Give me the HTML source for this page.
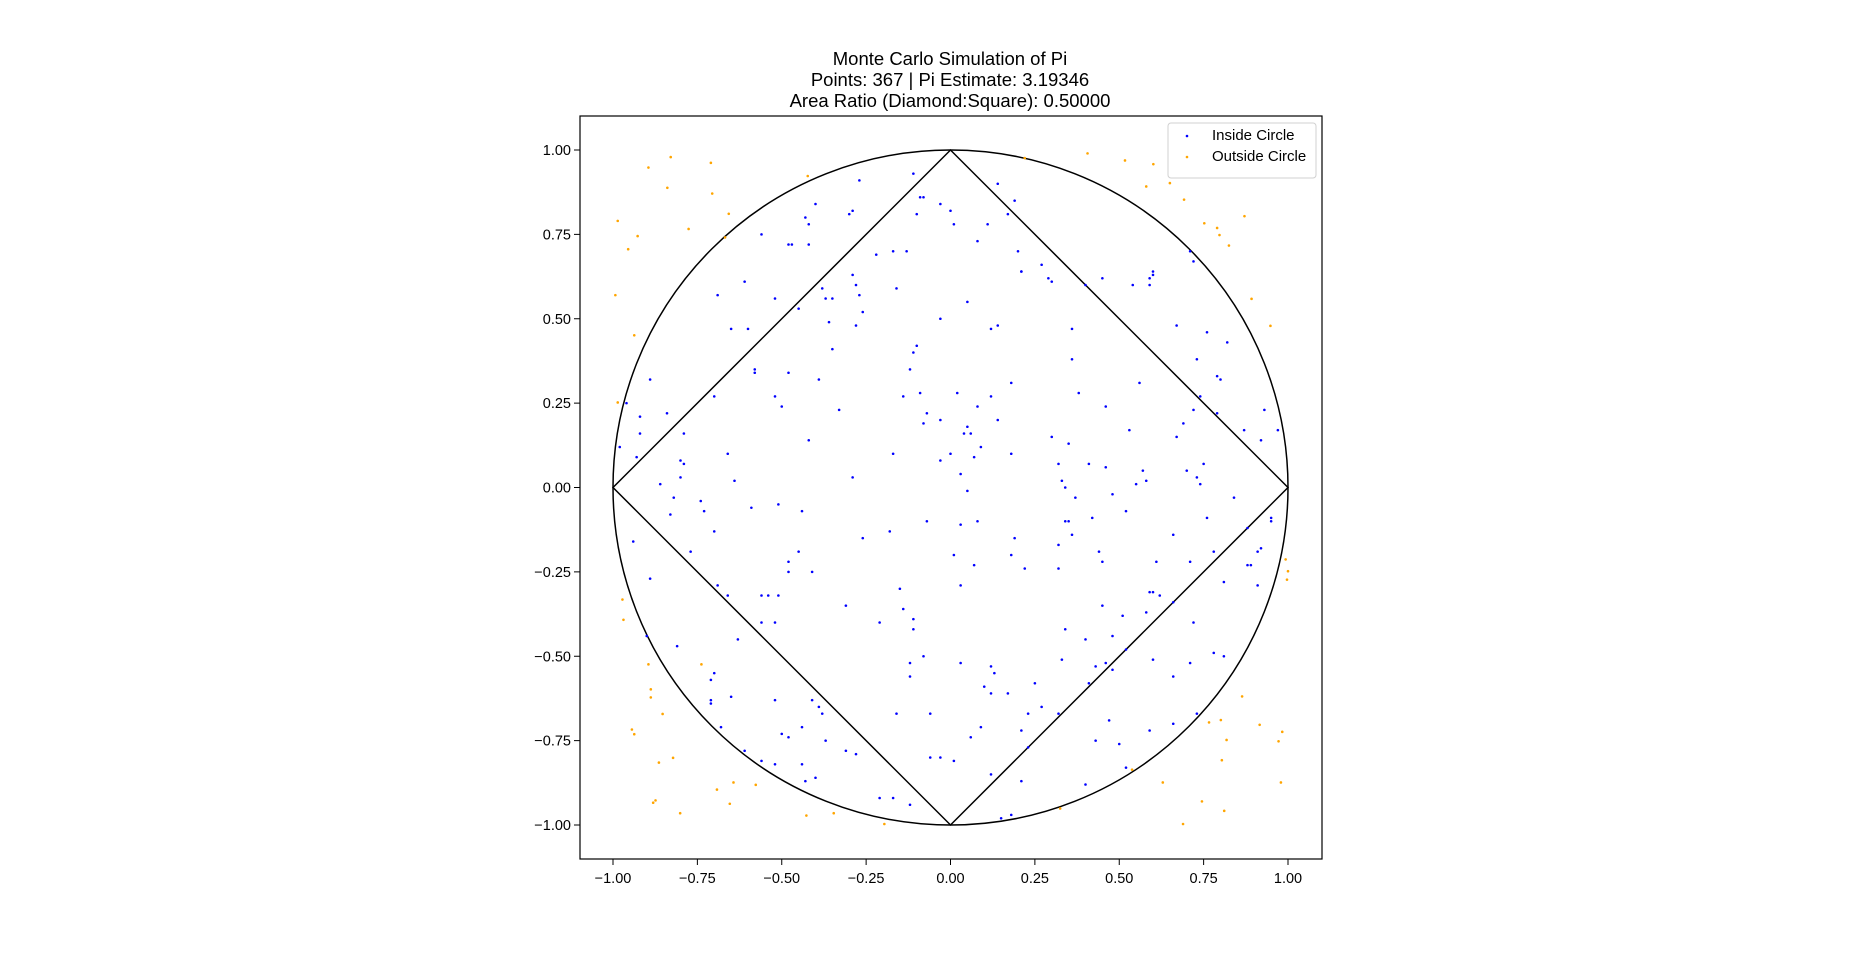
<!DOCTYPE html>
<html><head><meta charset="utf-8"><style>
html,body{margin:0;padding:0;background:#fff;}
svg{display:block;font-family:"Liberation Sans","DejaVu Sans",sans-serif;}
</style></head><body>
<svg id="chart" width="1854" height="965" xmlns="http://www.w3.org/2000/svg">
<rect width="1854" height="965" fill="#fff"/>
<g font-size="18.5" text-anchor="middle" fill="#000">
<text x="950" y="65">Monte Carlo Simulation of Pi</text>
<text x="950" y="86">Points: 367 | Pi Estimate: 3.19346</text>
<text x="950" y="107">Area Ratio (Diamond:Square): 0.50000</text>
</g>
<g id="plot"></g>
</svg>
<script>
const xTicks=[-1,-0.75,-0.5,-0.25,0,0.25,0.5,0.75,1];
const yTicks=[-1,-0.75,-0.5,-0.25,0,0.25,0.5,0.75,1];
const outsideX=[-0.986,-0.895,-0.829,-0.839,-0.927,-0.955,-0.993,-0.776,-0.71,-0.706,-0.657,-0.668,-0.937,-0.986,-0.972,-0.969,-0.895,-0.888,-0.853,-0.944,-0.937,-0.864,-0.822,-0.874,-0.881,-0.801,-0.692,-0.643,-0.654,-0.577,-0.423,-0.427,-0.346,-0.196,0.22,0.406,0.517,0.58,0.601,0.65,0.692,0.752,0.79,0.797,0.825,0.871,0.892,0.948,0.993,1.0,0.864,0.801,0.766,0.818,0.804,0.745,0.811,0.916,0.983,0.979,0.997,0.689,0.538,0.629,0.325,0.972,-0.738,-0.888];
const outsideY=[0.79,0.948,0.979,0.888,0.745,0.706,0.57,0.766,0.962,0.871,0.811,0.741,0.451,0.252,-0.332,-0.392,-0.524,-0.598,-0.671,-0.717,-0.731,-0.815,-0.801,-0.927,-0.934,-0.965,-0.895,-0.874,-0.937,-0.881,0.923,-0.972,-0.965,-0.997,0.976,0.99,0.969,0.892,0.958,0.902,0.853,0.783,0.769,0.748,0.717,0.804,0.559,0.479,-0.213,-0.248,-0.619,-0.689,-0.696,-0.748,-0.808,-0.93,-0.958,-0.703,-0.724,-0.874,-0.273,-0.997,-0.836,-0.874,-0.951,-0.752,-0.524,-0.622];
const insideX=[-0.11,-0.27,-0.09,-0.08,-0.03,0,-0.1,0.01,0.11,0.14,0.19,0.17,-0.4,-0.43,-0.42,-0.29,-0.3,-0.56,-0.48,-0.47,-0.42,0.08,-0.22,-0.17,-0.13,0.2,0.05,-0.03,0.21,0.21,0.27,0.29,0.3,-0.29,-0.28,-0.27,-0.26,-0.28,-0.38,-0.37,-0.35,-0.36,-0.35,-0.45,-0.52,-0.61,-0.6,-0.65,-0.69,-0.58,-0.58,-0.48,-0.39,-0.16,-0.1,-0.11,-0.12,-0.14,-0.09,-0.08,-0.07,-0.03,0,-0.03,0.03,0.05,0.02,0.12,0.14,0.08,0.05,0.06,0.04,0.07,0.09,0.18,0.14,0.12,0.18,-0.33,-0.42,-0.52,-0.5,-0.17,-0.29,-0.66,-0.64,-0.59,-0.51,-0.44,-0.26,-0.18,-0.07,0.03,0.08,0.01,0.03,0.07,0.19,0.18,0.22,-0.41,-0.45,-0.48,-0.48,-0.51,-0.56,-0.54,-0.56,-0.52,-0.63,-0.31,-0.15,-0.14,-0.11,-0.11,-0.21,-0.12,-0.08,-0.12,-0.16,-0.06,0.03,0.12,0.13,0.25,0.1,0.12,0.17,0.27,0.23,0.09,0.21,0.06,0.23,-0.06,-0.03,0.01,0.12,0.21,-0.12,-0.21,-0.17,0.15,0.18,0.32,-0.7,-0.71,-0.71,-0.71,-0.68,-0.65,-0.61,-0.56,-0.52,-0.5,-0.48,-0.52,-0.44,-0.41,-0.39,-0.38,-0.37,-0.44,-0.43,-0.4,-0.31,-0.28,-0.9,-0.81,-0.89,-0.77,-0.94,-0.82,-0.83,-0.86,-0.8,-0.8,-0.79,-0.79,-0.84,-0.92,-0.92,-0.96,-0.89,-0.98,-0.93,-0.74,-0.73,-0.7,-0.69,-0.66,-0.7,0.4,0.45,0.54,0.59,0.6,0.59,0.6,0.71,0.72,0.67,0.76,0.82,0.73,0.79,0.8,0.74,0.69,0.72,0.79,0.87,0.93,0.92,0.97,0.56,0.53,0.46,0.38,0.36,0.36,0.3,0.35,0.32,0.33,0.34,0.37,0.41,0.46,0.52,0.48,0.55,0.57,0.58,0.67,0.7,0.73,0.74,0.75,0.76,0.66,0.61,0.78,0.84,0.88,0.88,0.89,0.81,0.91,0.92,0.95,0.95,0.91,0.71,0.72,0.66,0.71,0.78,0.81,0.73,0.66,0.66,0.6,0.59,0.62,0.59,0.6,0.58,0.51,0.48,0.52,0.46,0.48,0.43,0.41,0.4,0.44,0.45,0.45,0.34,0.33,0.32,0.34,0.35,0.36,0.42,0.32,0.47,0.5,0.43,0.4,0.52];
const insideY=[0.93,0.91,0.86,0.86,0.84,0.82,0.81,0.78,0.78,0.9,0.85,0.81,0.84,0.8,0.78,0.82,0.81,0.75,0.72,0.72,0.72,0.73,0.69,0.7,0.7,0.7,0.55,0.5,0.64,0.64,0.66,0.62,0.61,0.63,0.6,0.57,0.52,0.48,0.59,0.56,0.56,0.49,0.41,0.53,0.56,0.61,0.47,0.47,0.57,0.35,0.34,0.34,0.32,0.59,0.42,0.4,0.35,0.27,0.28,0.19,0.22,0.2,0.1,0.08,0.04,-0.01,0.28,0.27,0.2,0.24,0.18,0.16,0.16,0.09,0.12,0.31,0.48,0.47,0.1,0.23,0.14,0.27,0.24,0.1,0.03,0.1,0.02,-0.06,-0.05,-0.07,-0.15,-0.13,-0.1,-0.11,-0.1,-0.2,-0.29,-0.23,-0.15,-0.2,-0.24,-0.25,-0.19,-0.22,-0.25,-0.32,-0.32,-0.32,-0.4,-0.4,-0.45,-0.35,-0.3,-0.36,-0.39,-0.42,-0.4,-0.52,-0.5,-0.56,-0.67,-0.67,-0.52,-0.53,-0.55,-0.58,-0.59,-0.61,-0.61,-0.65,-0.67,-0.71,-0.72,-0.74,-0.77,-0.8,-0.8,-0.81,-0.85,-0.87,-0.94,-0.92,-0.92,-0.98,-0.97,-0.67,-0.55,-0.57,-0.63,-0.64,-0.71,-0.62,-0.78,-0.81,-0.63,-0.73,-0.74,-0.82,-0.71,-0.63,-0.65,-0.67,-0.75,-0.82,-0.87,-0.86,-0.78,-0.79,-0.44,-0.47,-0.27,-0.19,-0.16,-0.03,-0.08,0.01,0.03,0.08,0.07,0.16,0.22,0.21,0.16,0.25,0.32,0.12,0.09,-0.04,-0.07,-0.13,-0.29,-0.32,0.27,0.6,0.62,0.6,0.62,0.64,0.6,0.63,0.7,0.67,0.48,0.46,0.43,0.38,0.33,0.32,0.27,0.19,0.23,0.22,0.17,0.23,0.14,0.17,0.31,0.17,0.24,0.28,0.47,0.38,0.15,0.13,0.07,0.02,0,-0.03,0.07,0.06,-0.07,-0.02,0.01,0.05,0.02,0.15,0.05,0.03,0.01,0.07,-0.09,-0.14,-0.22,-0.19,-0.03,-0.12,-0.23,-0.23,-0.28,-0.19,-0.18,-0.09,-0.1,-0.29,-0.22,-0.4,-0.34,-0.52,-0.49,-0.5,-0.67,-0.7,-0.56,-0.51,-0.72,-0.32,-0.31,-0.31,-0.37,-0.38,-0.44,-0.48,-0.52,-0.54,-0.53,-0.58,-0.45,-0.19,-0.22,-0.35,-0.42,-0.51,-0.17,-0.1,-0.1,-0.14,-0.09,-0.24,-0.69,-0.76,-0.75,-0.88,-0.83];

const NS="http://www.w3.org/2000/svg";
const AX={l:580,r:1322,t:116,b:859};
const cx=950.5, cy=487.5, k=337.5;
function sx(v){return cx+v*k;}
function sy(v){return cy-v*k;}
const g=document.getElementById('plot');
function mk(tag,attrs,parent){const e=document.createElementNS(NS,tag);for(const a in attrs)e.setAttribute(a,attrs[a]);(parent||g).appendChild(e);return e;}

const circ=mk('circle',{cx:sx(0),cy:sy(0),r:k,fill:'none',stroke:'#000','stroke-width':1.5});


const dia=mk('polygon',{points:[[1,0],[0,1],[-1,0],[0,-1]].map(p=>sx(p[0])+','+sy(p[1])).join(' '),fill:'none',stroke:'#000','stroke-width':1.5});



const gin=mk('g',{});


for(let i=0;i<insideX.length;i++){
  const c=mk('circle',{cx:sx(insideX[i]),cy:sy(insideY[i]),r:1.3,fill:'#0000ff'},gin);
  
  
}
const gout=mk('g',{});


for(let i=0;i<outsideX.length;i++){
  const c=mk('circle',{cx:sx(outsideX[i]),cy:sy(outsideY[i]),r:1.3,fill:'#ffa500'},gout);
  
  
}

const fr=mk('rect',{x:AX.l,y:AX.t,width:AX.r-AX.l,height:AX.b-AX.t,fill:'none',stroke:'#000','stroke-width':1.2});



const gx=mk('g',{'font-size':14.5,'text-anchor':'middle'});


xTicks.forEach(v=>{
  mk('line',{x1:sx(v),x2:sx(v),y1:AX.b,y2:AX.b+6,stroke:'#000','stroke-width':1},gx);
  const t=mk('text',{x:sx(v),y:AX.b+24},gx);t.textContent=v.toFixed(2).replace('-','\u2212');
  
  
});
const gy=mk('g',{'font-size':14.5,'text-anchor':'end'});


yTicks.forEach(v=>{
  mk('line',{x1:AX.l-6,x2:AX.l,y1:sy(v),y2:sy(v),stroke:'#000','stroke-width':1},gy);
  const t=mk('text',{x:AX.l-9,y:sy(v)+5},gy);t.textContent=v.toFixed(2).replace('-','\u2212');
  
  
});

const lg=mk('g',{'font-size':15});


mk('rect',{x:1168,y:123,width:148,height:55,rx:3,fill:'#fff','fill-opacity':0.8,stroke:'#d0d0d0'},lg);
const e1=mk('g',{},lg);


mk('circle',{cx:1187,cy:136,r:1.3,fill:'#0000ff'},e1);
mk('text',{x:1212,y:140},e1).textContent='Inside Circle';
const e2=mk('g',{},lg);


mk('circle',{cx:1187,cy:157,r:1.3,fill:'#ffa500'},e2);
mk('text',{x:1212,y:161},e2).textContent='Outside Circle';
</script>
</body></html>
